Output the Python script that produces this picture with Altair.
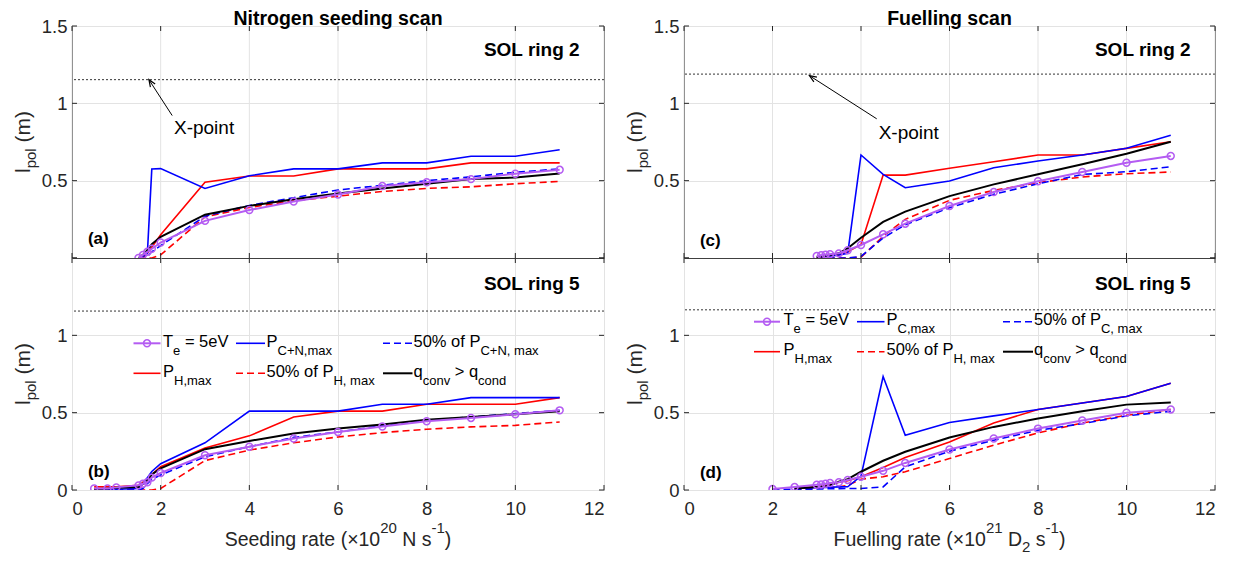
import math
import altair as alt
import pandas as pd

FONT = "Liberation Sans"
TXT = "#262626"

# ---------------- data ----------------
seed_x_ring2 = [1.5, 1.6, 1.7, 1.8, 2, 3, 4, 5, 6, 7, 8, 9, 10, 11]
seed_x_ring5 = [0.5, 0.8, 1.0, 1.5, 1.6, 1.7, 1.8, 2, 3, 4, 5, 6, 7, 8, 9, 10, 11]
fuel_x_ring2 = [3, 3.1, 3.2, 3.3, 3.5, 3.7, 4, 4.5, 5, 6, 7, 8, 9, 10, 11]
fuel_x_ring5 = [2, 2.5, 3, 3.1, 3.2, 3.3, 3.5, 3.7, 4, 4.5, 5, 6, 7, 8, 9, 10, 11]

# (a) nitrogen seeding, SOL ring 2
a_te     = [0.0, 0.02, 0.04, 0.06, 0.10, 0.24, 0.31, 0.365, 0.41, 0.465, 0.49, 0.51, 0.545, 0.57]
a_pmax   = [0.0, 0.01, 0.03, 0.575, 0.578, 0.45, 0.532, 0.576, 0.576, 0.615, 0.615, 0.658, 0.658, 0.70]
a_pmax50 = [0.0, 0.0, 0.01, 0.04, 0.08, 0.27, 0.34, 0.39, 0.44, 0.47, 0.50, 0.525, 0.554, 0.576]
a_ph     = [0.0, 0.0, 0.03, 0.07, 0.15, 0.49, 0.53, 0.53, 0.576, 0.576, 0.576, 0.615, 0.615, 0.615]
a_ph50   = [0.0, 0.0, 0.0, 0.0, 0.02, 0.266, 0.327, 0.37, 0.40, 0.43, 0.45, 0.46, 0.48, 0.495]
a_q      = [0.0, 0.02, 0.05, 0.09, 0.136, 0.28, 0.337, 0.38, 0.417, 0.45, 0.48, 0.51, 0.52, 0.547]

# (b) nitrogen seeding, SOL ring 5
b_te     = [0.01, 0.01, 0.017, 0.03, 0.04, 0.05, 0.08, 0.11, 0.225, 0.28, 0.333, 0.375, 0.41, 0.444, 0.466, 0.49, 0.515]
b_pmax   = [0.005, 0.005, 0.005, 0.01, 0.04, 0.08, 0.12, 0.17, 0.305, 0.51, 0.51, 0.51, 0.554, 0.554, 0.597, 0.597, 0.597]
b_pmax50 = [0.0, 0.0, 0.0, 0.0, 0.01, 0.04, 0.07, 0.097, 0.215, 0.28, 0.34, 0.375, 0.416, 0.45, 0.472, 0.494, 0.515]
b_ph     = [0.02, 0.02, 0.02, 0.03, 0.05, 0.07, 0.10, 0.15, 0.272, 0.35, 0.472, 0.51, 0.51, 0.554, 0.554, 0.554, 0.597]
b_ph50   = [0.0, 0.0, 0.0, 0.0, 0.0, 0.0, 0.0, 0.01, 0.19, 0.258, 0.305, 0.343, 0.371, 0.393, 0.408, 0.418, 0.44]
b_q      = [0.005, 0.01, 0.015, 0.02, 0.04, 0.06, 0.10, 0.14, 0.264, 0.317, 0.365, 0.397, 0.423, 0.455, 0.472, 0.49, 0.509]

# (c) fuelling, SOL ring 2
c_te     = [0.013, 0.018, 0.022, 0.025, 0.03, 0.05, 0.084, 0.153, 0.222, 0.336, 0.427, 0.496, 0.556, 0.616, 0.66]
c_pmax   = [0.005, 0.008, 0.01, 0.012, 0.02, 0.03, 0.666, 0.541, 0.454, 0.498, 0.584, 0.627, 0.666, 0.709, 0.793]
c_pmax50 = [0.0, 0.0, 0.0, 0.0, 0.0, 0.0, 0.01, 0.13, 0.215, 0.325, 0.412, 0.48, 0.54, 0.558, 0.59]
c_ph     = [0.005, 0.008, 0.01, 0.015, 0.02, 0.04, 0.088, 0.536, 0.536, 0.58, 0.622, 0.666, 0.666, 0.709, 0.752]
c_ph50   = [0.0, 0.0, 0.0, 0.0, 0.0, 0.0, 0.005, 0.14, 0.25, 0.373, 0.437, 0.487, 0.524, 0.545, 0.556]
c_q      = [0.005, 0.01, 0.015, 0.02, 0.03, 0.063, 0.131, 0.233, 0.30, 0.40, 0.476, 0.541, 0.606, 0.674, 0.752]

# (d) fuelling, SOL ring 5
d_te     = [0.006, 0.019, 0.034, 0.036, 0.04, 0.045, 0.05, 0.065, 0.086, 0.124, 0.175, 0.262, 0.333, 0.397, 0.45, 0.5, 0.521]
d_pmax   = [None, 0.01, 0.015, 0.016, 0.017, 0.018, 0.02, 0.021, 0.09, 0.734, 0.354, 0.436, 0.479, 0.52, 0.562, 0.605, 0.69]
d_pmax50 = [0.003, 0.005, 0.006, 0.007, 0.008, 0.008, 0.009, 0.01, 0.01, 0.02, 0.15, 0.251, 0.322, 0.386, 0.429, 0.479, 0.509]
d_ph     = [None, 0.01, 0.02, 0.025, 0.03, 0.035, 0.05, 0.06, 0.086, 0.146, 0.21, 0.311, 0.433, 0.52, 0.562, 0.605, 0.69]
d_ph50   = [None, 0.005, 0.01, 0.012, 0.014, 0.016, 0.02, 0.03, 0.07, 0.086, 0.118, 0.204, 0.29, 0.369, 0.433, 0.483, 0.521]
d_q      = [None, 0.01, 0.02, 0.022, 0.025, 0.03, 0.054, 0.07, 0.118, 0.189, 0.247, 0.339, 0.408, 0.462, 0.509, 0.552, 0.565]

# X-point location per panel
xpoint = {"a": 1.153, "b": 1.157, "c": 1.189, "d": 1.165}

titles = ["Nitrogen seeding scan", "Fuelling scan"]
# axis titles as (text, script) pieces: 0 normal, -1 subscript, 1 superscript
x_title_seed = [("Seeding rate (\u00d710", 0), ("20", 1), (" N s", 0), ("-1", 1), (")", 0)]
x_title_fuel = [("Fuelling rate (\u00d710", 0), ("21", 1), (" D", 0), ("2", -1), (" s", 0), ("-1", 1), (")", 0)]
y_title = [("l", 0), ("pol", -1), (" (m)", 0)]
x_ticks = [0, 2, 4, 6, 8, 10, 12]
y_ticks = [0, 0.5, 1, 1.5]

# legend texts: list of (text, is_subscript)
leg_seed = {
    "te": [("T", False), ("e", True), (" = 5eV", False)],
    "pmax": [("P", False), ("C+N,max", True)],
    "pmax50": [("50% of P", False), ("C+N, max", True)],
    "ph": [("P", False), ("H,max", True)],
    "ph50": [("50% of P", False), ("H, max", True)],
    "q": [("q", False), ("conv", True), (" > q", False), ("cond", True)],
}
leg_fuel = {
    "te": [("T", False), ("e", True), (" = 5eV", False)],
    "pmax": [("P", False), ("C,max", True)],
    "pmax50": [("50% of P", False), ("C, max", True)],
    "ph": [("P", False), ("H,max", True)],
    "ph50": [("50% of P", False), ("H, max", True)],
    "q": [("q", False), ("conv", True), (" > q", False), ("cond", True)],
}

# ---------------- styles ----------------
STYLE = {
    "te": dict(color="#b45cf2", w=2.0, dash=None),
    "pmax": dict(color="#0000ff", w=1.6, dash=None),
    "pmax50": dict(color="#0000ff", w=1.6, dash=[7, 4]),
    "ph": dict(color="#ff0000", w=1.6, dash=None),
    "ph50": dict(color="#ff0000", w=1.6, dash=[7, 4]),
    "q": dict(color="#000000", w=2.0, dash=None),
}
DRAW_ORDER = ["ph50", "pmax50", "ph", "pmax", "q", "te"]
LEG_POS = {"te": (0, 0), "pmax": (1, 0), "pmax50": (2, 0), "ph": (0, 1), "ph50": (1, 1), "q": (2, 1)}

W_PLOT_L, W_PLOT_R, H_PLOT = 532, 531, 232
GRID = "#e3e3e3"

XS = alt.Scale(domain=[0, 12], nice=False, zero=False)
YS = alt.Scale(domain=[0, 1.5], nice=False, zero=False)

ARIAL = {' ': 278, '%': 889, '=': 584, '>': 584, '+': 584, ',': 278, 'T': 611, 'P': 667,
         'C': 722, 'N': 722, 'H': 722, 'V': 667, 'D': 722, 'S': 667, 'F': 611, '(': 333,
         ')': 333, '-': 333, '\u00d7': 584,
         'a': 556, 'c': 500, 'd': 556, 'e': 556, 'f': 278, 'g': 556, 'i': 222, 'l': 222,
         'm': 833, 'n': 556, 'o': 556, 'p': 556, 'q': 556, 'r': 333, 's': 500, 't': 278,
         'u': 556, 'v': 500, 'x': 500}


def tw(s, fs):
    return sum(ARIAL.get(ch, 556) for ch in s) * fs / 1000.0


DUMMY = pd.DataFrame({"k": [0]})


def text_piece(txt, x, y, fs, angle=0, weight="normal"):
    kw = dict(text=txt, align="left", baseline="alphabetic", fontSize=fs, font=FONT,
              color=TXT, fontWeight=weight)
    if angle:
        kw["angle"] = angle
    return alt.Chart(DUMMY).mark_text(**kw).encode(x=alt.value(x), y=alt.value(y))


def x_title_layers(pieces, width):
    MAIN, SUP = 19.5, 15
    total = sum(tw(t, SUP if s else MAIN) for t, s in pieces)
    x = width / 2 - total / 2
    base = H_PLOT + 56
    out = []
    for t, s in pieces:
        fs = SUP if s else MAIN
        st = t.lstrip(" ")
        lead = tw(t[: len(t) - len(st)], fs)
        y = base - 13 if s == 1 else (base + 6 if s == -1 else base)
        out.append(text_piece(st, x + lead, y, fs))
        x += tw(t, fs)
    return out


def y_title_layers(pieces):
    MAIN, SUB = 21, 15
    total = sum(tw(t, SUB if s else MAIN) for t, s in pieces)
    y = H_PLOT / 2 + total / 2
    base = -42
    out = []
    for t, s in pieces:
        fs = SUB if s else MAIN
        st = t.lstrip(" ")
        lead = tw(t[: len(t) - len(st)], fs)
        x = base + 6 if s == -1 else base
        out.append(text_piece(st, x, y - lead, fs, angle=270))
        y -= tw(t, fs)
    return out


def legend_layers(texts, x0s, x1s, txs, rows):
    layers = []
    for key in ["te", "pmax", "pmax50", "ph", "ph50", "q"]:
        c, r = LEG_POS[key]
        yy = rows[r]
        st = STYLE[key]
        kw = dict(color=st["color"], strokeWidth=st["w"])
        if st["dash"]:
            kw["strokeDash"] = st["dash"]
        layers.append(alt.Chart(DUMMY).mark_rule(**kw).encode(
            x=alt.value(x0s[c]), x2=alt.value(x1s[c]), y=alt.value(yy)))
        if key == "te":
            layers.append(alt.Chart(DUMMY).mark_point(
                shape="circle", filled=False, size=48, strokeWidth=1.5, color=st["color"],
                opacity=1).encode(x=alt.value((x0s[c] + x1s[c]) / 2), y=alt.value(yy)))
        x = txs[c]
        for txt, sub in texts[key]:
            fs = 13 if sub else 16.5
            stripped = txt.lstrip(" ")
            lead = tw(txt[: len(txt) - len(stripped)], fs)
            layers.append(alt.Chart(DUMMY).mark_text(
                text=stripped, align="left", baseline="alphabetic", fontSize=fs, font=FONT,
                color="#000000"
            ).encode(x=alt.value(x + lead), y=alt.value(yy + (11.5 if sub else 3.5))))
            x += tw(txt, fs)
    return layers


def panel(xs, vals, xp, sol, letter, letter_y, sol_y, width, top, xtitle,
          title=None, arrow=None, xtext=None, legend=None):
    if top:
        xa = None
        ya = alt.Axis(values=[0.5, 1, 1.5], title=None, grid=True, labelPadding=5, format="~g")
    else:
        xa = alt.Axis(values=x_ticks, title=None, grid=True, labelPadding=9)
        ya = alt.Axis(values=[0, 0.5, 1], title=None, grid=True, labelPadding=5, format="~g")

    def X(f):
        return alt.X(f, type="quantitative", scale=XS, axis=xa)

    def Y(f):
        return alt.Y(f, type="quantitative", scale=YS, axis=ya)

    layers = []
    tick_x = pd.DataFrame({"t": x_ticks})
    tick_y = pd.DataFrame({"t": y_ticks})
    if top:
        layers.append(alt.Chart(tick_x).mark_rule(color=GRID, strokeWidth=1).encode(x=X("t")))
    # X-point dotted line
    layers.append(alt.Chart(pd.DataFrame({"y": [xp]})).mark_rule(
        color="#333333", strokeWidth=1, strokeDash=[2, 2]).encode(y=Y("y")))
    for k in DRAW_ORDER:
        df = pd.DataFrame({"x": xs, "y": vals[k]}).dropna()
        st = STYLE[k]
        kw = dict(color=st["color"], strokeWidth=st["w"], clip=True)
        if st["dash"]:
            kw["strokeDash"] = st["dash"]
        layers.append(alt.Chart(df).mark_line(**kw).encode(x=X("x"), y=Y("y")))
        if k == "te":
            layers.append(alt.Chart(df).mark_point(
                shape="circle", filled=False, size=48, strokeWidth=1.5, color=st["color"],
                opacity=1, clip=True).encode(x=X("x"), y=Y("y")))
    # inner tick marks (all four sides)
    tk = dict(color=TXT, strokeWidth=1)
    layers.append(alt.Chart(tick_x).mark_rule(**tk).encode(
        x=X("t"), y=alt.value(H_PLOT), y2=alt.value(H_PLOT - 5)))
    layers.append(alt.Chart(tick_x).mark_rule(**tk).encode(
        x=X("t"), y=alt.value(0), y2=alt.value(5)))
    layers.append(alt.Chart(tick_y).mark_rule(**tk).encode(
        y=Y("t"), x=alt.value(0), x2=alt.value(5)))
    layers.append(alt.Chart(tick_y).mark_rule(**tk).encode(
        y=Y("t"), x=alt.value(width), x2=alt.value(width - 5)))
    # texts
    txt = pd.DataFrame({"x": [11.45], "y": [sol_y], "t": [sol]})
    layers.append(alt.Chart(txt).mark_text(
        align="right", baseline="middle", fontSize=19, fontWeight="bold", font=FONT,
        color="#000000").encode(x=X("x"), y=Y("y"), text="t:N"))
    lt = pd.DataFrame({"x": [0.36], "y": [letter_y], "t": [letter]})
    layers.append(alt.Chart(lt).mark_text(
        align="left", baseline="middle", fontSize=17, fontWeight="bold", font=FONT,
        color="#000000").encode(x=X("x"), y=Y("y"), text="t:N"))
    if arrow is not None:
        (tx, ty), (hx, hy) = arrow
        ar = pd.DataFrame({"x": [tx], "y": [ty], "x2": [hx], "y2": [hy]})
        layers.append(alt.Chart(ar).mark_rule(color="#000000", strokeWidth=1).encode(
            x=X("x"), y=Y("y"), x2="x2:Q", y2="y2:Q"))
        dxp = (hx - tx) * width / 12.0
        dyp = -(hy - ty) * H_PLOT / 1.5
        ang = math.degrees(math.atan2(dxp, -dyp)) % 360
        hd = pd.DataFrame({"x": [hx], "y": [hy]})
        layers.append(alt.Chart(hd).mark_point(
            shape="M-0.4,1L0,0L0.4,1", filled=False, size=200, strokeWidth=1.2,
            color="#000000", angle=ang, opacity=1).encode(x=X("x"), y=Y("y")))
        xt = pd.DataFrame({"x": [xtext[0]], "y": [xtext[1]], "t": ["X-point"]})
        layers.append(alt.Chart(xt).mark_text(
            align="left", baseline="middle", fontSize=19, font=FONT, color="#000000"
        ).encode(x=X("x"), y=Y("y"), text="t:N"))
    if legend is not None:
        layers += legend_layers(*legend)
    layers += y_title_layers(y_title)
    if xtitle is not None:
        layers += x_title_layers(xtitle, width)
    ch = alt.layer(*layers).properties(width=width, height=H_PLOT)
    if title:
        ch = ch.properties(title=alt.TitleParams(title, frame="group", anchor="middle", offset=-12))
    return ch


def vals_of(te, pmax, pmax50, ph, ph50, q):
    return {"te": te, "pmax": pmax, "pmax50": pmax50, "ph": ph, "ph50": ph50, "q": q}


pa = panel(seed_x_ring2, vals_of(a_te, a_pmax, a_pmax50, a_ph, a_ph50, a_q), xpoint["a"],
           "SOL ring 2", "(a)", 0.12, 1.345, W_PLOT_L, True, None, title=titles[0],
           arrow=((2.26, 0.921), (1.735, 1.153)), xtext=(2.3, 0.84))
pb = panel(seed_x_ring5, vals_of(b_te, b_pmax, b_pmax50, b_ph, b_ph50, b_q), xpoint["b"],
           "SOL ring 5", "(b)", 0.115, 1.335, W_PLOT_L, False, x_title_seed,
           legend=(leg_seed, [61.5, 164, 311], [88.5, 193, 340.5], [91, 194.5, 341.5], [85.3, 115.3]))
pc = panel(fuel_x_ring2, vals_of(c_te, c_pmax, c_pmax50, c_ph, c_ph50, c_q), xpoint["c"],
           "SOL ring 2", "(c)", 0.107, 1.345, W_PLOT_R, True, None, title=titles[1],
           arrow=((4.355, 0.9), (2.835, 1.179)), xtext=(4.4, 0.808))
pd_ = panel(fuel_x_ring5, vals_of(d_te, d_pmax, d_pmax50, d_ph, d_ph50, d_q), xpoint["d"],
            "SOL ring 5", "(d)", 0.112, 1.335, W_PLOT_R, False, x_title_fuel,
            legend=(leg_fuel, [70, 173, 319], [96, 200.5, 349], [99.5, 202.5, 350], [63.7, 93.7]))

left = alt.vconcat(pa, pb, spacing=0, bounds="flush")
right = alt.vconcat(pc, pd_, spacing=0, bounds="flush")

chart = alt.hconcat(left, right, spacing=19).properties(
    padding={"left": 4, "top": 0, "right": 5, "bottom": 0}
).configure_view(
    stroke="#404040", strokeWidth=1
).configure_axis(
    labelFont=FONT, titleFont=FONT, labelColor=TXT, titleColor=TXT, labelFontSize=18.5,
    titleFontSize=19, titleFontWeight="normal", gridColor=GRID, gridWidth=1,
    domain=False, ticks=False, tickSize=0
).configure_title(
    font=FONT, fontSize=19.5, fontWeight="bold", color="#000000"
)

chart.save("out.html", embed_options={"renderer": "svg", "actions": False})
